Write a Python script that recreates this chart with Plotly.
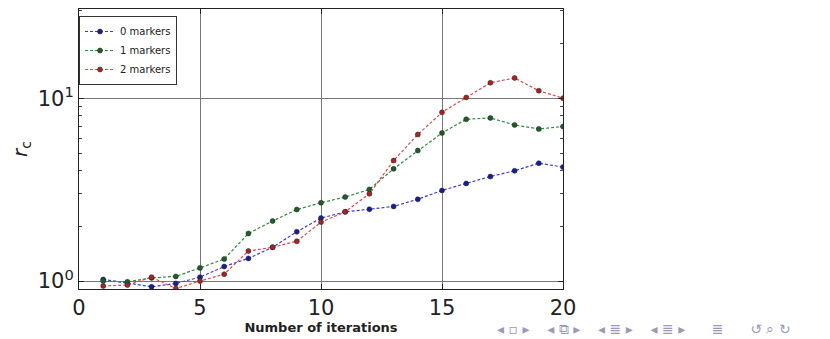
import plotly.graph_objects as go

iterations = list(range(1, 21))
r0 = [1.02, 0.97, 0.93, 0.97, 1.05, 1.20, 1.33, 1.53, 1.86, 2.21, 2.39, 2.47, 2.56, 2.80, 3.13, 3.42, 3.73, 4.01, 4.41, 4.20]
r1 = [1.00, 0.99, 1.04, 1.06, 1.18, 1.32, 1.82, 2.13, 2.46, 2.68, 2.88, 3.17, 4.11, 5.17, 6.46, 7.67, 7.80, 7.14, 6.79, 7.00]
r2 = [0.94, 0.95, 1.05, 0.91, 1.00, 1.09, 1.46, 1.53, 1.65, 2.10, 2.39, 3.00, 4.56, 6.33, 8.37, 10.1, 12.15, 12.9, 10.99, 10.0]
names = ["0 markers", "1 markers", "2 markers"]
x_ticks = [0, 5, 10, 15, 20]

line_colors = ["#3a3ad8", "#2f8a3a", "#e04848"]
mk_colors = ["#1c1c9a", "#1d5f2a", "#a82424"]

fig = go.Figure()
for ys, nm, lc, mc in zip([r0, r1, r2], names, line_colors, mk_colors):
    fig.add_trace(go.Scatter(
        x=iterations, y=ys, name=nm, mode="lines+markers",
        line=dict(color=lc, width=1.2, dash="3px,2px"),
        marker=dict(color=mc, size=5, line=dict(color="#202020", width=0.5)),
    ))

# page body has an 8px default margin, so the figure is sized to fit the window
W, H = 822, 331
ML, MR, MT, MB = 62, 267, 0, 50
PW, PH = W - ML - MR, H - MT - MB

fig.update_layout(
    width=W, height=H,
    margin=dict(l=ML, r=MR, t=MT, b=MB),
    paper_bgcolor="white", plot_bgcolor="white",
    font=dict(family="DejaVu Sans", color="#222222"),
    showlegend=True,
    legend=dict(x=0.0, y=0.975, xanchor="left", yanchor="top",
                bgcolor="white", bordercolor="#333333", borderwidth=1,
                font=dict(size=10, family="DejaVu Sans"),
                tracegroupgap=0, itemwidth=30),
    xaxis=dict(range=[0, 20], tickvals=x_ticks, ticktext=[str(v) for v in x_ticks],
               showgrid=True, gridcolor="#777777", gridwidth=1,
               showline=True, linecolor="#222222", linewidth=1, mirror="ticks",
               ticks="inside", ticklen=5, tickcolor="#222222",
               tickfont=dict(size=21, family="DejaVu Sans", color="#222222"),
               title=dict(text="<b>Number of iterations</b>", font=dict(size=13), standoff=2),
               zeroline=False),
    yaxis=dict(type="log", range=[-0.0436, 1.488],
               tickvals=[1, 10], ticktext=["10<sup>0</sup>", "10<sup>1</sup>"],
               showgrid=True, gridcolor="#777777", gridwidth=1,
               showline=True, linecolor="#222222", linewidth=1, mirror="ticks",
               ticks="inside", ticklen=5, tickcolor="#222222",
               minor=dict(ticks="inside", ticklen=3, tickcolor="#444444",
                          tickvals=[2, 3, 4, 5, 6, 7, 8, 9, 20, 30], showgrid=False),
               tickfont=dict(size=21, family="DejaVu Sans", color="#222222"),
               title=dict(text="<i>r</i><sub>c</sub>", font=dict(size=20), standoff=16),
               zeroline=False),
)

fig.add_annotation(
    x=(645 - 70) / PW, y=(281 - 321) / PH, xref="paper", yref="paper", showarrow=False,
    text="◂ ▫ ▸    ◂ ⧉ ▸    ◂ ≣ ▸    ◂ ≣ ▸      ≣      ↺ ⌕ ↻",
    font=dict(size=14, color="#9a9ab8", family="DejaVu Sans"),
    xanchor="center", yanchor="middle",
)

fig.write_html("out.html")
